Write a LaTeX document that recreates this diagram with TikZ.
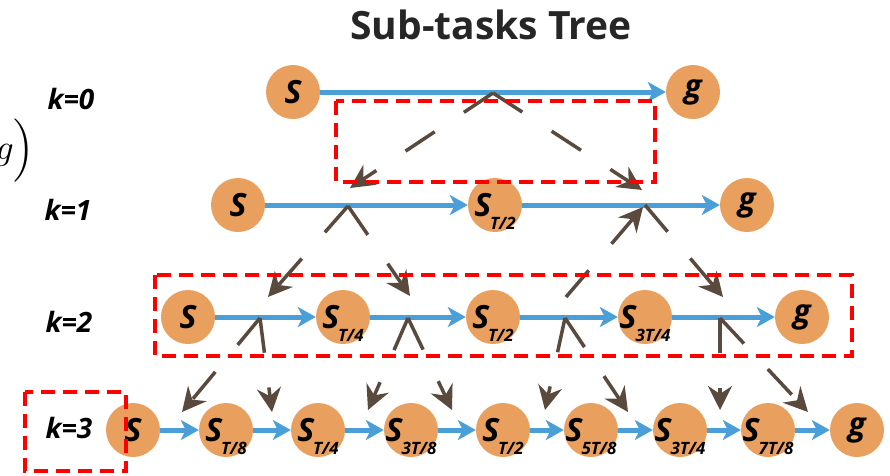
\documentclass[tikz,border=0pt]{standalone}
\usepackage{graphicx}
\usepackage{fontspec}
\setmainfont{Open Sans}
\usetikzlibrary{arrows.meta}
\definecolor{nodeor}{HTML}{E99F5E}
\definecolor{edgeblue}{HTML}{4A9FD8}
\definecolor{treebrown}{HTML}{5A4A3E}
\definecolor{boxred}{HTML}{FF0000}
\definecolor{titlegray}{HTML}{262626}
\newcommand\subidx[1]{\kern-1pt\smash{\raisebox{-13pt}{\fontsize{17}{17}\selectfont #1}}}
\newcommand\ctext[1]{\makebox[0pt][c]{#1}}
\begin{document}
\begin{tikzpicture}[x=1pt,y=-1pt,
  state/.style={circle,fill=nodeor,minimum size=54pt,inner sep=0pt,text=black,
    font=\bfseries\itshape\fontsize{32}{32}\selectfont},
  flow/.style={draw=edgeblue,line width=5pt,-{Stealth[length=18pt,width=20pt,inset=5pt]}},
  split/.style={draw=treebrown,line width=3.5pt,dash pattern=on 35pt off 35pt,
    -{Stealth[length=24pt,width=24pt,inset=8pt]}},
  hlbox/.style={draw=boxred,line width=4pt,dash pattern=on 14pt off 8pt},
  klabel/.style={font=\bfseries\itshape\fontsize{28}{28}\selectfont,text=black}]
\useasboundingbox (0,0) rectangle (890,475);

% title and labels
\node[anchor=base,text=titlegray,font=\bfseries\fontsize{39}{39}\selectfont] (title) at (491,39) {Sub-tasks Tree};
\node[klabel] (k0) at (71,99) {k=0};
\node[klabel] (k1) at (68,210) {k=1};
\node[klabel] (k2) at (69,322) {k=2};
\node[klabel] (k3) at (69,428) {k=3};
\node[anchor=east,inner sep=0pt] (frag) at (35,151) {\scalebox{3.5}{$g\Big)$}};

% row 0
\node[state] (s0) at (293,92) {\ctext{S}};
\node[state] (g0) at (693,92) {\ctext{g}};
% row 1
\node[state] (s1) at (238,205) {\ctext{S}};
\node[state] (h1) at (495,205) {\ctext{S\subidx{T/2}}};
\node[state] (g1) at (747,205) {\ctext{g}};
% row 2
\node[state] (s2) at (188,317) {\ctext{S}};
\node[state] (q1) at (343,317) {\ctext{S\subidx{T/4}}};
\node[state] (h2) at (493,317) {\ctext{S\subidx{T/2}}};
\node[state] (q3) at (645,317) {\ctext{S\subidx{3T/4}}};
\node[state] (g2) at (802,317) {\ctext{g}};
% row 3
\node[state] (a0) at (133,430) {\ctext{S}};
\node[state] (a1) at (226,430) {\ctext{S\subidx{T/8}}};
\node[state] (a2) at (318,430) {\ctext{S\subidx{T/4}}};
\node[state] (a3) at (411,430) {\ctext{S\subidx{3T/8}}};
\node[state] (a4) at (503,430) {\ctext{S\subidx{T/2}}};
\node[state] (a5) at (591,430) {\ctext{S\subidx{5T/8}}};
\node[state] (a6) at (680,430) {\ctext{S\subidx{3T/4}}};
\node[state] (a7) at (768,430) {\ctext{S\subidx{7T/8}}};
\node[state] (a8) at (857,430) {\ctext{g}};

% blue edges
\draw[flow] (s0) -- (g0);
\draw[flow] (s1) -- (h1);
\draw[flow] (h1) -- (g1);
\draw[flow] (s2) -- (q1);
\draw[flow] (q1) -- (h2);
\draw[flow] (h2) -- (q3);
\draw[flow] (q3) -- (g2);
\draw[flow] (a0) -- (a1);
\draw[flow] (a1) -- (a2);
\draw[flow] (a2) -- (a3);
\draw[flow] (a3) -- (a4);
\draw[flow] (a4) -- (a5);
\draw[flow] (a5) -- (a6);
\draw[flow] (a6) -- (a7);
\draw[flow] (a7) -- (a8);

% split points and arrow ends
\coordinate (c0) at (493,93);
\coordinate (t0l) at (350,188);
\coordinate (t0r) at (642,190);
\coordinate (c1l) at (348,206);
\coordinate (t1a) at (268,297);
\coordinate (t1b) at (410,296);
\coordinate (c1r) at (643,207);
\coordinate (c1rr) at (645,205);
\coordinate (r1) at (566,297);
\coordinate (t1d) at (723,297);
\coordinate (c2a) at (260,318);
\coordinate (c2b) at (408,318);
\coordinate (c2c) at (565,318);
\coordinate (c2d) at (720,318);
\coordinate (t2a) at (182,412);
\coordinate (t2b) at (272,412);
\coordinate (t2c) at (368,410);
\coordinate (t2d) at (452,410);
\coordinate (t2e) at (545,410);
\coordinate (t2f) at (628,412);
\coordinate (t2g) at (720,410);
\coordinate (t2h) at (808,412);

% brown split arrows
\draw[split] (c0) -- (t0l);
\draw[split] (c0) -- (t0r);
\draw[split] (c1l) -- (t1a);
\draw[split] (c1l) -- (t1b);
\draw[split] (r1) -- (c1r);
\draw[split] (c1rr) -- (t1d);
\draw[split] (c2a) -- (t2a);
\draw[split] (c2a) -- (t2b);
\draw[split] (c2b) -- (t2c);
\draw[split] (c2b) -- (t2d);
\draw[split] (c2c) -- (t2e);
\draw[split] (c2c) -- (t2f);
\draw[split] (c2d) -- (t2g);
\draw[split] (c2d) -- (t2h);

% red highlight boxes
\draw[hlbox] (336,101) rectangle (655,182);
\draw[hlbox] (155,275) rectangle (852,356);
\draw[hlbox] (25,392) rectangle (126,471);
\end{tikzpicture}
\end{document}
